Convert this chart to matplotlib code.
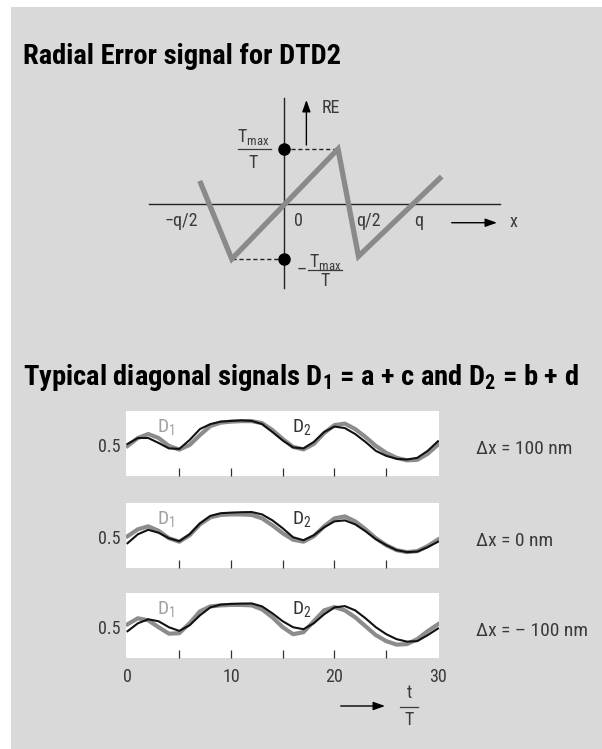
import matplotlib
matplotlib.use("Agg")
import matplotlib.pyplot as plt
from matplotlib import font_manager
from matplotlib.patches import Rectangle

W, H = 602, 749

# radial error sawtooth: x in units of q, y in units of Tmax/T
re_x = [-0.66, -0.41, 0.42, 0.58, 1.23]
re_y = [0.42, -1.0, 1.0, -0.95, 0.50]
re_tick_labels = ["\u2212q/2", "0", "q/2", "q"]
re_tick_x = [-0.80, 0.107, 0.654, 1.052]

# diagonal signals D1 (grey) and D2 (black) versus t/T
t_vals = list(range(31))
d1_pos = [0.49, 0.57, 0.61, 0.57, 0.49, 0.453, 0.50, 0.60, 0.69, 0.725, 0.735,
          0.74, 0.74, 0.72, 0.65, 0.56, 0.48, 0.455, 0.51, 0.62, 0.70, 0.715,
          0.66, 0.58, 0.49, 0.42, 0.37, 0.345, 0.35, 0.41, 0.503]
d2_pos = [0.51, 0.57, 0.57, 0.52, 0.465, 0.46, 0.55, 0.66, 0.71, 0.735, 0.742,
          0.747, 0.742, 0.71, 0.63, 0.545, 0.475, 0.465, 0.53, 0.63, 0.685, 0.67,
          0.61, 0.53, 0.44, 0.39, 0.36, 0.353, 0.37, 0.44, 0.537]
d1_zero = [0.51, 0.58, 0.61, 0.565, 0.49, 0.455, 0.52, 0.63, 0.70, 0.725, 0.73,
           0.73, 0.725, 0.69, 0.62, 0.54, 0.475, 0.455, 0.51, 0.61, 0.69, 0.71,
           0.66, 0.58, 0.49, 0.42, 0.37, 0.35, 0.36, 0.41, 0.477]
d2_zero = [0.44, 0.53, 0.575, 0.545, 0.49, 0.46, 0.53, 0.64, 0.715, 0.742, 0.748,
           0.752, 0.754, 0.73, 0.67, 0.59, 0.50, 0.47, 0.52, 0.60, 0.66, 0.67,
           0.63, 0.56, 0.48, 0.42, 0.37, 0.35, 0.355, 0.40, 0.454]
d1_neg = [0.53, 0.59, 0.57, 0.50, 0.435, 0.44, 0.54, 0.66, 0.71, 0.72, 0.725,
          0.725, 0.72, 0.68, 0.60, 0.50, 0.43, 0.45, 0.56, 0.67, 0.703, 0.67,
          0.60, 0.51, 0.42, 0.36, 0.325, 0.33, 0.38, 0.46, 0.53]
d2_neg = [0.46, 0.54, 0.58, 0.56, 0.50, 0.463, 0.52, 0.62, 0.70, 0.728, 0.735,
          0.738, 0.74, 0.71, 0.64, 0.56, 0.50, 0.48, 0.54, 0.63, 0.70, 0.713,
          0.67, 0.59, 0.50, 0.43, 0.38, 0.355, 0.36, 0.42, 0.487]
shift_labels = ["\u0394x = 100 nm", "\u0394x = 0 nm", "\u0394x = \u2013 100 nm"]
time_ticks = [5, 10, 15, 20, 25]
time_labels = [0, 10, 20, 30]

names = {f.name for f in font_manager.fontManager.ttflist}
narrow = next((n for n in ["Liberation Sans Narrow", "Roboto Condensed",
                           "Open Sans Condensed"] if n in names), "Liberation Sans")
plt.rcParams["font.family"] = [narrow, "DejaVu Sans"]
plt.rcParams["mathtext.default"] = "regular"

INK = "#3a3a3a"

fig = plt.figure(figsize=(W / 100, H / 100), dpi=100)
fig.patch.set_facecolor("white")

# overlay in pixel units for background, titles and free labels
ov = fig.add_axes([0, 0, 1, 1])
ov.set_xlim(0, W)
ov.set_ylim(H, 0)
ov.axis("off")
ov.add_patch(Rectangle((11, 7), W - 11, H - 7, facecolor="#d9d9d9", edgecolor="none"))
ov.text(23, 64, "Radial Error signal for DTD2", fontsize=20.5, fontweight="bold",
        va="baseline", color="black")
ov.text(23, 385, "Typical diagonal signals $D_1$ = a + c and $D_2$ = b + d",
        fontsize=20.5, fontweight="bold", va="baseline", color="black")


def px_axes(x0, y0, x1, y1):
    return fig.add_axes([x0 / W, 1 - y1 / H, (x1 - x0) / W, (y1 - y0) / H])


# ---- radial error diagram ----
ax = px_axes(140, 90, 530, 300)
ax.set_xlim(-1.127, 1.920)
ax.set_ylim(-1.745, 2.073)
ax.axis("off")
ax.plot([0, 0], [-1.527, 1.927], color="#222222", lw=1.0)
ax.plot([-1.057, 1.685], [0, 0], color="#222222", lw=1.0)
ax.plot([0, re_x[2]], [re_y[2], re_y[2]], color="#222222", lw=1.0, ls=(0, (3, 2)))
ax.plot([re_x[1], 0], [re_y[1], re_y[1]], color="#222222", lw=1.0, ls=(0, (3, 2)))
ax.plot(re_x, re_y, color="#8a8a8a", lw=3.8, solid_joinstyle="miter",
        solid_capstyle="butt")
ax.plot([0, 0], [re_y[2], re_y[1]], "o", ms=8, color="black")
ax.annotate("", xy=(0.173, 1.891), xytext=(0.173, 1.073),
            arrowprops=dict(arrowstyle="-|>,head_length=0.7,head_width=0.25",
                            color="black", lw=1.0, shrinkA=0, shrinkB=0))
ax.text(0.295, 1.745, "RE", fontsize=13, color=INK, ha="left", va="center")
for lx, lab in zip(re_tick_x, re_tick_labels):
    ax.text(lx, -0.30, lab, fontsize=13, color=INK, ha="center", va="center")
ax.annotate("", xy=(1.662, -0.34), xytext=(1.308, -0.34),
            arrowprops=dict(arrowstyle="-|>,head_length=0.7,head_width=0.25",
                            color="black", lw=1.0, shrinkA=0, shrinkB=0))
ax.text(1.787, -0.32, "x", fontsize=13, color=INK, ha="center", va="center")

# Tmax/T fractions
ax.text(-0.245, 1.218, "$T_{max}$", fontsize=13, color=INK, ha="center", va="center")
ax.plot([-0.362, -0.106], [1.0, 1.0], color=INK, lw=0.9)
ax.text(-0.245, 0.745, "T", fontsize=13, color=INK, ha="center", va="center")
ax.text(0.136, -1.2, "\u2013", fontsize=13, color=INK, ha="center", va="center")
ax.text(0.318, -1.055, "$T_{max}$", fontsize=13, color=INK, ha="center", va="center")
ax.plot([0.185, 0.448], [-1.2, -1.2], color=INK, lw=0.9)
ax.text(0.318, -1.40, "T", fontsize=13, color=INK, ha="center", va="center")

# ---- diagonal signal panels ----
panel_tops = [410.7, 503, 593]
series = [(d1_pos, d2_pos), (d1_zero, d2_zero), (d1_neg, d2_neg)]
for i, (top, (d1, d2), lab) in enumerate(zip(panel_tops, series, shift_labels)):
    a = px_axes(126, top, 439, top + 65)
    a.set_facecolor("white")
    for sp in a.spines.values():
        sp.set_visible(False)
    a.plot(t_vals, d1, color="#8c8c8c", lw=3.0)
    a.plot(t_vals, d2, color="#111111", lw=1.5)
    a.set_xlim(-0.15, 30.1)
    a.set_ylim(0.19, 0.845)
    a.set_xticks(time_ticks)
    a.tick_params(axis="x", direction="in", length=5.8, width=0.9, color="#333333",
                  labelbottom=False)
    a.set_yticks([0.5])
    a.set_yticklabels(["0.5"])
    a.tick_params(axis="y", length=0, pad=4, labelsize=13, labelcolor=INK)
    a.text(2.85, 0.635, "$D_1$", fontsize=14, color="#a0a0a0")
    a.text(15.9, 0.635, "$D_2$", fontsize=14, color="#333333")
    ov.text(476, top + 38, lab, fontsize=14, color=INK, va="center", ha="left")
    if i == 2:
        for v in time_labels:
            a.annotate(str(v), xy=(v, 0), xycoords=("data", "axes fraction"),
                       xytext=(0, -13.7), textcoords="offset points",
                       ha="center", va="center", fontsize=13, color=INK)

# t/T arrow under the time axis
ov.annotate("", xy=(385, 706), xytext=(340.7, 706),
            arrowprops=dict(arrowstyle="-|>,head_length=0.7,head_width=0.25",
                            color="black", lw=1.0, shrinkA=0, shrinkB=0))
ov.text(409, 693, "t", fontsize=13, color=INK, ha="center", va="center")
ov.plot([400, 418], [706.5, 706.5], color=INK, lw=0.9)
ov.text(409, 720, "T", fontsize=13, color=INK, ha="center", va="center")

fig.savefig("out.png", dpi=100)
